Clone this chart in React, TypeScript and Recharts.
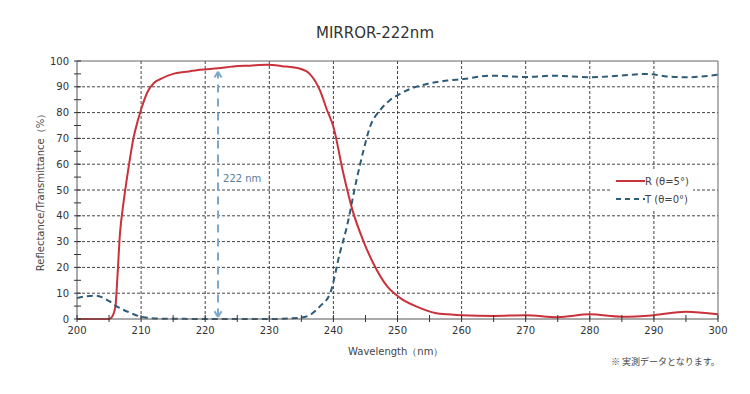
import React from 'react';
import { LineChart, Line, XAxis, YAxis, CartesianGrid, ReferenceLine, ReferenceDot, Legend } from 'recharts';

const rWavelength = [200, 204, 205, 205.5, 206, 206.3, 206.7, 207.2, 208, 208.8, 209.5, 210.1, 211, 212, 213, 215, 217, 219.2, 222, 224.4, 227, 229.6, 232, 234.8, 236.3, 237.9, 239, 240, 241.5, 243, 244.6, 246.2, 248.4, 250.4, 253, 256.6, 260, 265, 270, 275, 280, 285, 290, 295, 300];
const rValues = [0, 0, 0, 1, 5, 16, 33, 44, 58, 70, 77, 82, 88, 91.5, 93, 95, 95.8, 96.6, 97.2, 97.9, 98.2, 98.5, 98, 97, 95, 88.6, 81, 74.5, 57, 42, 30.7, 21.7, 12.6, 8.2, 4.8, 2, 1.5, 1.2, 1.5, 0.7, 1.8, 0.9, 1.5, 2.8, 1.8];

const tWavelength = [200, 201.5, 203, 204, 205.1, 206, 207.2, 208.5, 209.8, 211, 212, 215, 220, 225, 230, 234.8, 236.3, 237.9, 239.5, 241, 242.1, 243.6, 244.7, 245.7, 247.3, 248.8, 250.4, 252, 254.6, 257.7, 260.3, 264.5, 270, 274.3, 280, 284.7, 289, 292, 295, 300];
const tValues = [8.1, 8.8, 9, 8.3, 6.8, 5.2, 3.6, 2.2, 1, 0.5, 0.2, 0.1, 0, 0, 0, 0.5, 1.5, 4.9, 10, 25.5, 35.8, 53.8, 65.4, 74.4, 81, 84.8, 87.3, 89.2, 91.1, 92.4, 93, 94.3, 93.8, 94.3, 93.7, 94.3, 95, 94, 93.7, 94.7];

const xTicks = [200, 205, 210, 215, 220, 225, 230, 235, 240, 245, 250, 255, 260, 265, 270, 275, 280, 285, 290, 295, 300];
const yTicks = [0, 5, 10, 15, 20, 25, 30, 35, 40, 45, 50, 55, 60, 65, 70, 75, 80, 85, 90, 95, 100];
const xGrid = [210, 220, 230, 240, 250, 260, 270, 280, 290];
const yGrid = [10, 20, 30, 40, 50, 60, 70, 80, 90];

const rData = rWavelength.map((wl, i) => ({ wl, r: rValues[i] }));
const tData = tWavelength.map((wl, i) => ({ wl, t: tValues[i] }));

const RED = '#c8323a';
const TEAL = '#2d5b78';
const ARROW = '#7ea8c8';
const FONT = '"DejaVu Sans", Verdana, sans-serif';

const XTick = (props: any) => {
  const { x, y, payload } = props;
  const major = payload.value % 10 === 0;
  return (
    <g>
      <line x1={x} x2={x} y1={y + 3} y2={y - 4} stroke="#333" strokeWidth={1} />
      {major && (
        <text x={x} y={y + 15} textAnchor="middle" fontSize={10} fill="#333" fontFamily={FONT}>
          {payload.value}
        </text>
      )}
    </g>
  );
};

const YTick = (props: any) => {
  const { x, y, payload } = props;
  const major = payload.value % 10 === 0;
  return (
    <g>
      <line x1={x - 3} x2={x + 4} y1={y} y2={y} stroke="#333" strokeWidth={1} />
      {major && (
        <text x={x - 8} y={y + 3.5} textAnchor="end" fontSize={10} fill="#333" fontFamily={FONT}>
          {payload.value}
        </text>
      )}
    </g>
  );
};

const LegendBox = () => (
  <div style={{ fontFamily: FONT, fontSize: 10, color: '#444', background: '#fff', padding: '1px 4px' }}>
    <div style={{ display: 'flex', alignItems: 'center', height: 18 }}>
      <svg width={29} height={10}><line x1={0} x2={29} y1={5} y2={5} stroke={RED} strokeWidth={2} /></svg>
      <span>R (θ=5°)</span>
    </div>
    <div style={{ display: 'flex', alignItems: 'center', height: 18 }}>
      <svg width={29} height={10}><line x1={0} x2={29} y1={5} y2={5} stroke={TEAL} strokeWidth={2} strokeDasharray="5 4" /></svg>
      <span>T (θ=0°)</span>
    </div>
  </div>
);

export default function App() {
  return (
    <div style={{ position: 'absolute', left: 0, top: 0, width: 750, height: 394, background: '#fff', fontFamily: FONT }}>
      <div style={{ position: 'absolute', left: 0, width: 750, top: 24, textAlign: 'center', fontSize: 15, color: '#333' }}>
        MIRROR-222nm
      </div>
      <LineChart width={750} height={394} margin={{ top: 61, right: 32, bottom: 55, left: 37 }}>
        <CartesianGrid
          stroke="#444"
          strokeDasharray="3 2"
          horizontalValues={yGrid}
          verticalValues={xGrid}
        />
        <XAxis
          type="number"
          dataKey="wl"
          domain={[200, 300]}
          ticks={xTicks}
          interval={0}
          height={20}
          tickSize={0}
          tickMargin={0}
          tickLine={false}
          tick={XTick}
          axisLine={{ stroke: '#555' }}
          allowDuplicatedCategory={false}
        />
        <YAxis
          type="number"
          domain={[0, 100]}
          ticks={yTicks}
          interval={0}
          width={40}
          tickSize={0}
          tickMargin={0}
          tickLine={false}
          tick={YTick}
          axisLine={{ stroke: '#555' }}
          label={{
            value: 'Reflectance/Transmittance（%）',
            angle: -90,
            position: 'insideLeft',
            offset: 3,
            style: { textAnchor: 'middle', fontSize: 10, fill: '#444', fontFamily: FONT },
          }}
        />
        <ReferenceLine y={100} stroke="#666" />
        <ReferenceLine x={300} stroke="#666" />
        <ReferenceLine
          segment={[{ x: 222, y: 1 }, { x: 222, y: 95.6 }]}
          stroke={ARROW}
          strokeWidth={2}
          strokeDasharray="8 6"
        />
        <ReferenceLine segment={[{ x: 221.45, y: 93.6 }, { x: 222, y: 95.8 }]} stroke={ARROW} strokeWidth={2} />
        <ReferenceLine segment={[{ x: 222.55, y: 93.6 }, { x: 222, y: 95.8 }]} stroke={ARROW} strokeWidth={2} />
        <ReferenceLine segment={[{ x: 221.45, y: 3 }, { x: 222, y: 0.8 }]} stroke={ARROW} strokeWidth={2} />
        <ReferenceLine segment={[{ x: 222.55, y: 3 }, { x: 222, y: 0.8 }]} stroke={ARROW} strokeWidth={2} />
        <ReferenceDot
          x={222}
          y={54.5}
          r={0}
          stroke="none"
          fill="none"
          label={{ value: '222 nm', position: 'right', offset: 5, fontSize: 10, fill: '#5b7d98', fontFamily: FONT }}
        />
        <Line
          data={rData}
          dataKey="r"
          type="monotone"
          stroke={RED}
          strokeWidth={2}
          dot={false}
          isAnimationActive={false}
        />
        <Line
          data={tData}
          dataKey="t"
          type="monotone"
          stroke={TEAL}
          strokeWidth={2}
          strokeDasharray="6 4"
          dot={false}
          isAnimationActive={false}
        />
        <Legend
          layout="vertical"
          align="center"
          verticalAlign="middle"
          content={LegendBox}
          wrapperStyle={{ position: 'absolute', left: 612, top: 171, width: 'auto' }}
        />
      </LineChart>
      <div style={{ position: 'absolute', left: 348, top: 345, fontSize: 10, color: '#444' }}>Wavelength（nm）</div>
      <div style={{ position: 'absolute', left: 611, top: 355, fontSize: 9, color: '#444', fontFamily: '"Noto Sans CJK JP", sans-serif' }}>
        ※ 実測データとなります。
      </div>
    </div>
  );
}
